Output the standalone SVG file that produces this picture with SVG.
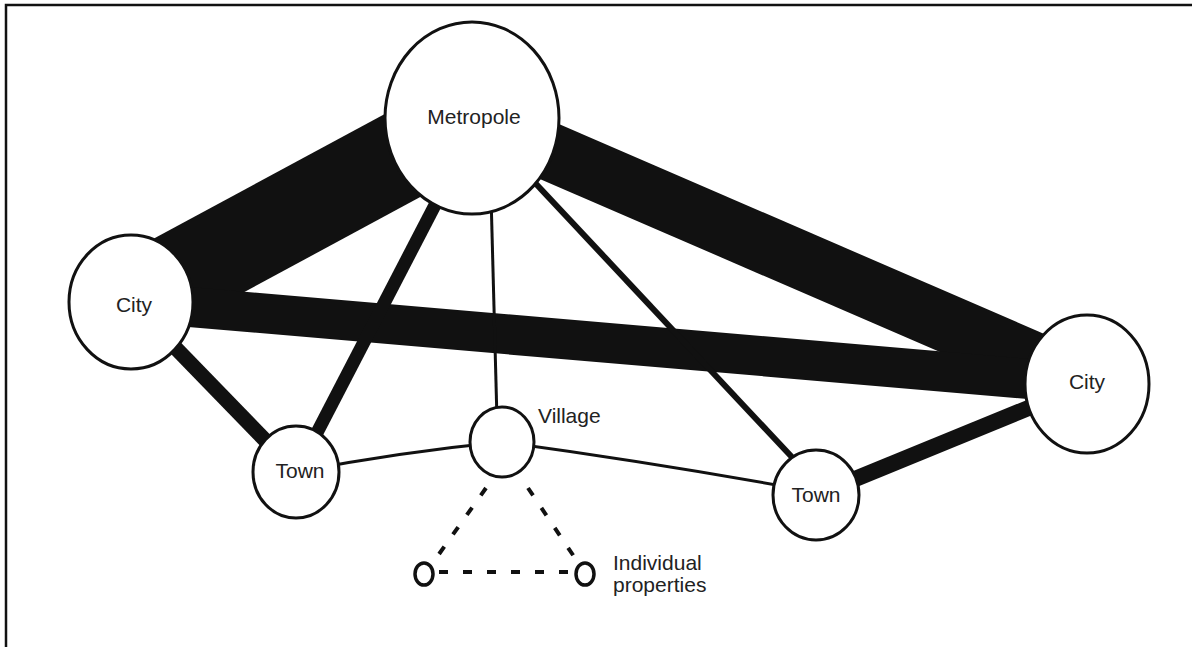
<svg xmlns="http://www.w3.org/2000/svg" width="1192" height="647" viewBox="0 0 1192 647">
<style>
.node{fill:#fff;stroke:#111;stroke-width:3}
.small{fill:#fff;stroke:#111;stroke-width:3.5}
.lbl{font-family:"Liberation Sans",Arial,sans-serif;font-size:21px;fill:#222;text-anchor:middle}
.lblL{font-family:"Liberation Sans",Arial,sans-serif;font-size:21px;fill:#222}
.e{stroke:#111;fill:none;stroke-linecap:butt}
.d{stroke:#111;fill:none;stroke-width:4;stroke-dasharray:9 15}
</style>
<rect x="0" y="0" width="1192" height="647" fill="#fff"/>
<path d="M6 647 V5 H1192" fill="none" stroke="#111" stroke-width="2.5"/>
<g id="connectors">
  <line class="e" x1="131" y1="302" x2="472" y2="118" stroke-width="90"/>
  <line class="e" x1="472" y1="118" x2="1087" y2="384" stroke-width="58"/>
  <line class="e" x1="131" y1="302" x2="1087" y2="384" stroke-width="40"/>
  <line class="e" x1="448" y1="180" x2="308" y2="450" stroke-width="13"/>
  <line class="e" x1="131" y1="302" x2="296" y2="472" stroke-width="15"/>
  <line class="e" x1="1087" y1="384" x2="816" y2="495" stroke-width="16"/>
  <line class="e" x1="523" y1="170" x2="804" y2="470" stroke-width="6"/>
  <line class="e" x1="491" y1="195" x2="497" y2="420" stroke-width="3"/>
  <path class="e" d="M296 472 Q400 452 502 442" stroke-width="3"/>
  <path class="e" d="M502 442 Q650 462 816 492" stroke-width="3"/>
  <line class="d" x1="486" y1="488" x2="432" y2="564"/>
  <line class="d" x1="528" y1="488" x2="579" y2="564"/>
  <line class="d" x1="439" y1="572" x2="572" y2="572"/>
</g>
<g id="metropole"><ellipse class="node" cx="472" cy="118" rx="87" ry="96"/><text class="lbl" x="474" y="124" font-size="22">Metropole</text></g>
<g id="city-left"><ellipse class="node" cx="131" cy="302" rx="62" ry="67"/><text class="lbl" x="134" y="312">City</text></g>
<g id="city-right"><ellipse class="node" cx="1087" cy="384" rx="62" ry="69"/><text class="lbl" x="1087" y="389">City</text></g>
<g id="town-left"><ellipse class="node" cx="296" cy="472" rx="43" ry="46"/><text class="lbl" x="300" y="478">Town</text></g>
<g id="town-right"><ellipse class="node" cx="816" cy="495" rx="43" ry="45"/><text class="lbl" x="816" y="502">Town</text></g>
<g id="village"><ellipse class="node" cx="502" cy="442" rx="32" ry="35"/><text class="lblL" x="538" y="423">Village</text></g>
<g id="property-left"><ellipse class="small" cx="424" cy="574" rx="9" ry="11"/></g>
<g id="property-right"><ellipse class="small" cx="585" cy="574" rx="9" ry="11"/><text class="lblL" x="613" y="570">Individual</text><text class="lblL" x="613" y="592">properties</text></g>
</svg>
